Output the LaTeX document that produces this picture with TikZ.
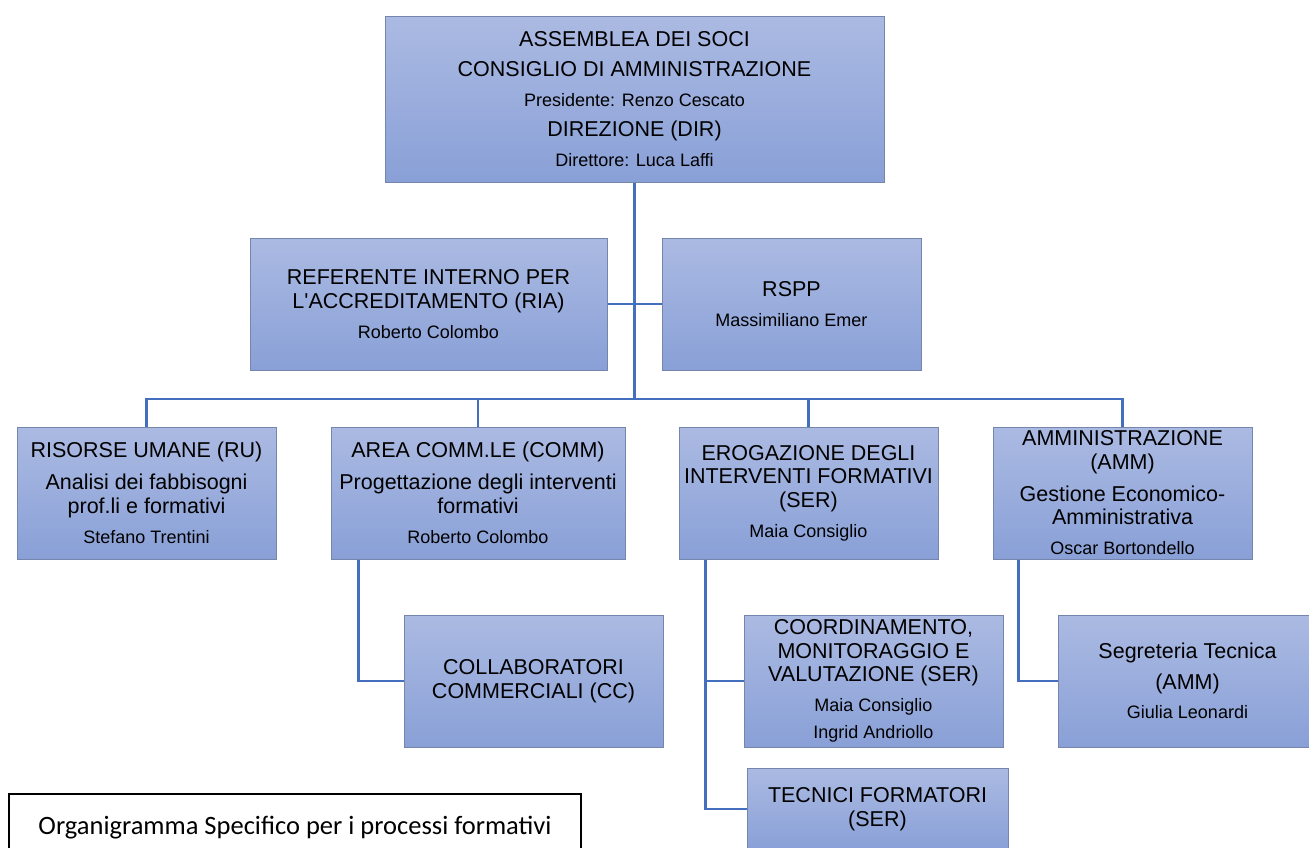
\documentclass[tikz,border=0pt]{standalone}
\usepackage{fontspec}
\setmainfont{Liberation Sans}
\newfontfamily\capfont{Carlito}
\definecolor{boxtop}{RGB}{171,186,226}
\definecolor{boxbot}{RGB}{137,160,215}
\definecolor{boxline}{RGB}{118,133,172}
\definecolor{linkc}{RGB}{68,110,190}
\newcommand\sm[1]{{\fontsize{18}{23.5}\selectfont #1}}
\begin{document}
\begin{tikzpicture}[x=1pt,y=-1pt,
  orgbox/.style={draw=boxline, line width=1pt, top color=boxtop, bottom color=boxbot,
    align=center, inner sep=0pt, minimum width=259pt, minimum height=132pt,
    font=\fontsize{21.5}{23.5}\selectfont},
  link/.style={draw=linkc, line width=2.2pt},
  capbox/.style={draw=black, line width=1.3pt, fill=white, inner sep=0pt,
    minimum width=572pt, minimum height=68pt, font=\capfont\fontsize{26.5}{28}\selectfont}]
\useasboundingbox (0,0) rectangle (1309,847);

% connectors
\coordinate (bus) at (634.5,399);
\node[orgbox, minimum width=499pt, minimum height=166pt, font=\fontsize{21.5}{30}\selectfont] (top) at (634.5,99)
  {ASSEMBLEA DEI SOCI\\ CONSIGLIO DI AMMINISTRAZIONE\\ \sm{Presidente: Renzo Cescato}\\ DIREZIONE (DIR)\\ \sm{Direttore: Luca Laffi}};
\node[orgbox, minimum width=357pt] (ria) at (428.5,304)
  {REFERENTE INTERNO PER\\ L\textquotesingle ACCREDITAMENTO (RIA)\\[6.5pt] \sm{Roberto Colombo}};
\node[orgbox] (rspp) at (791.5,304)
  {RSPP\\[6pt] \sm{Massimiliano Emer}};
\node[orgbox] (ru) at (146.5,493)
  {RISORSE UMANE (RU)\\[8.5pt] Analisi dei fabbisogni\\ prof.li e formativi\\[6.5pt] \sm{Stefano Trentini}};
\node[orgbox, minimum width=294pt] (comm) at (478,493)
  {AREA COMM.LE (COMM)\\[8.5pt] Progettazione degli interventi\\ formativi\\[6.5pt] \sm{Roberto Colombo}};
\node[orgbox] (ser) at (808.5,493)
  {EROGAZIONE DEGLI\\ INTERVENTI FORMATIVI\\ (SER)\\[6.5pt] \sm{Maia Consiglio}};
\node[orgbox] (amm) at (1122.5,493)
  {AMMINISTRAZIONE\\ (AMM)\\[8.5pt] Gestione Economico-\\ Amministrativa\\[6.5pt] \sm{Oscar Bortondello}};
\node[orgbox] (cc) at (533.5,681)
  {COLLABORATORI\\ COMMERCIALI (CC)};
\node[orgbox] (coord) at (873.5,681)
  {COORDINAMENTO,\\ MONITORAGGIO E\\ VALUTAZIONE (SER)\\[6.5pt] \sm{Maia Consiglio}\\[3.5pt] \sm{Ingrid Andriollo}};
\node[orgbox, minimum width=261pt, minimum height=82pt] (tec) at (877.5,809)
  {TECNICI FORMATORI\\ (SER)};
\node[orgbox] (seg) at (1187.5,681)
  {Segreteria Tecnica\\[7.5pt] (AMM)\\[5.5pt] \sm{Giulia Leonardi}};

\node[capbox] (cap) at (295,828)
  {Organigramma Specifico per i processi formativi};

\path[link] (top.south) -- (bus);
\path[link] (ria.east) -- (rspp.west);
\path[link] (ru.north) |- (bus) -| (amm.north);
\path[link] (comm.north) -- (comm.north |- bus);
\path[link] (ser.north) -- (ser.north |- bus);
\path[link] ([xshift=28pt]comm.south west) |- (cc.west);
\path[link] ([xshift=27pt]ser.south west) |- (coord.west);
\path[link] ([xshift=27pt]ser.south west) |- (tec.west);
\path[link] ([xshift=26pt]amm.south west) |- (seg.west);
\end{tikzpicture}
\end{document}
